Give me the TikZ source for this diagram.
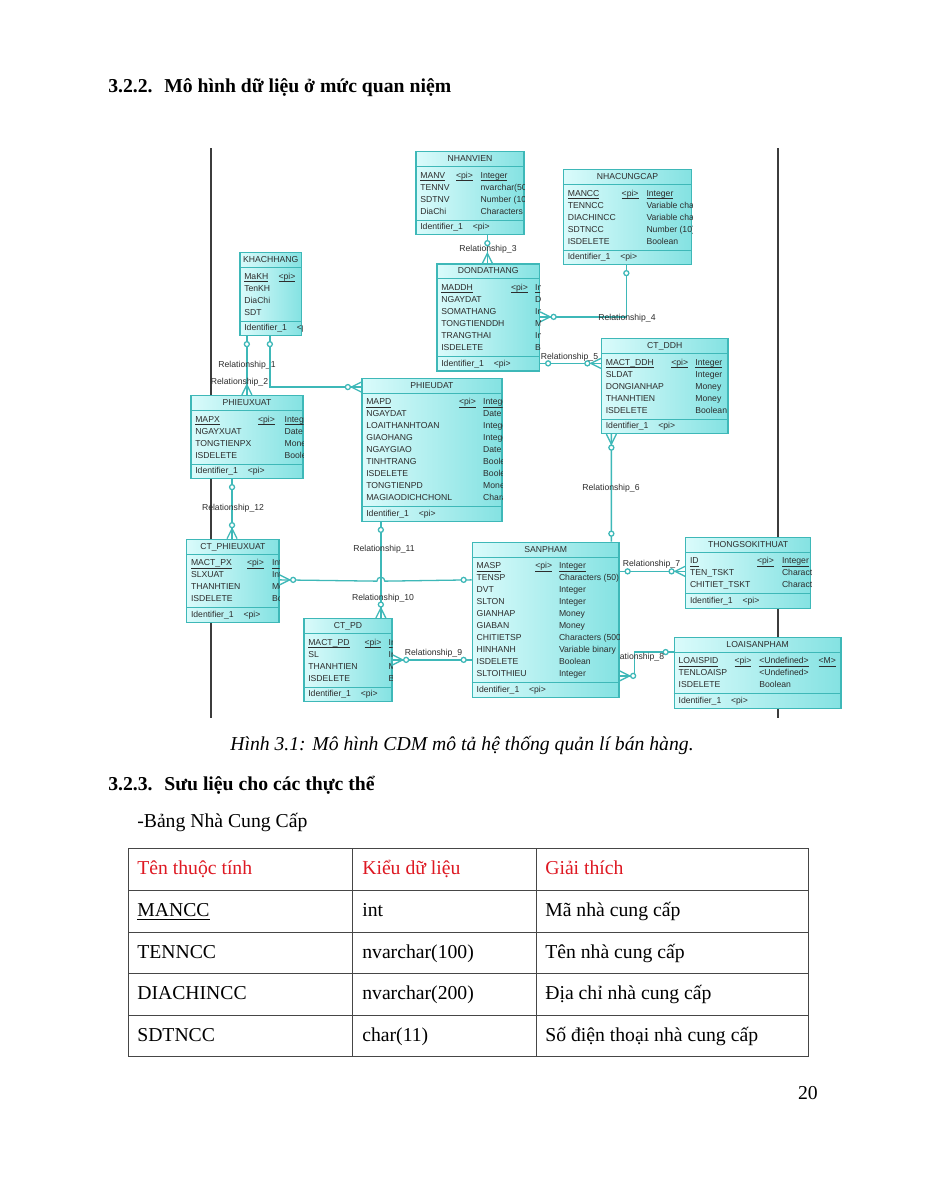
\documentclass[tikz,border=0pt]{standalone}
\usepackage{fontspec}
\setmainfont{Liberation Serif}
\newfontfamily\diagfont{Liberation Sans}
\usetikzlibrary{calc,fit}

\pgfdeclarelayer{paper}
\pgfdeclarelayer{back}
\pgfsetlayers{paper,back,main}

\definecolor{entborder}{RGB}{62,184,184}
\definecolor{entlight}{RGB}{218,251,251}
\definecolor{entdark}{RGB}{132,226,226}
\definecolor{inkgray}{RGB}{45,45,45}
\definecolor{framegray}{RGB}{60,60,60}
\definecolor{headred}{RGB}{222,24,34}
\definecolor{rulegray}{RGB}{70,70,70}

\newcommand{\entfont}{\diagfont\fontsize{5.7}{7}\selectfont}
\newcommand{\erul}[1]{\underline{\smash{#1}}}

\tikzset{
  entbox/.style={draw=entborder, line width=0.85pt, inner sep=0pt, left color=entlight, right color=entdark},
  entline/.style={draw=entborder, line width=0.7pt},
  enttitle/.style={font=\entfont, text=inkgray, anchor=base, inner sep=0pt},
  enttext/.style={font=\entfont, text=inkgray, anchor=base west, inner sep=0pt},
  relline/.style={draw=entborder, line width=0.85pt},
  rellabel/.style={font=\entfont, text=inkgray, inner sep=0pt},
  bodytext/.style={font=\fontsize{13}{15}\selectfont, anchor=base west, inner sep=0pt},
  sectext/.style={font=\bfseries\fontsize{13}{15}\selectfont, anchor=base west, inner sep=0pt},
  captext/.style={font=\itshape\fontsize{13}{15}\selectfont, anchor=base west, inner sep=0pt},
  tablerule/.style={draw=rulegray, line width=0.5pt},
  onemark/.pic={\draw[relline, fill=white] (8,0) circle[radius=2.5];},
  manymark/.pic={\draw[relline] (0,-5) -- (10,0) -- (0,5);
    \draw[relline, fill=white] (13.5,0) circle[radius=2.5];},
  crowmark/.pic={\draw[relline] (0,-5) -- (10,0) -- (0,5);},
}

% entity: id, x1, y1, x2, rows, title, <pi> column, type column, rows
\newcommand{\erentity}[9]{%
  \def\erid{#1}\def\erx{#2}\def\ery{#3}\def\erpix{#7}\def\ertypex{#8}%
  \pgfmathsetmacro{\erbot}{#3+35+12*#5}%
  \node[entbox, fit={(#2,#3) (#4,\erbot)}] (#1) {};
  \draw[entline] ($(#1.north west)+(0,15.5)$) -- ($(#1.north east)+(0,15.5)$);
  \draw[entline] ($(#1.south west)+(0,-15)$) -- ($(#1.south east)+(0,-15)$);
  \node[enttitle] (#1-title) at ($(#1.north)+(0,10.5)$) {#6};
  \begin{scope}
    \clip (#1.north west) rectangle (#1.south east);
    #9
    \node[enttext] (#1-ident) at (#2+4,\erbot-5) {Identifier\_1};
    \node[enttext] (#1-identpi) at (#2+56.5,\erbot-5) {<pi>};
  \end{scope}
}
\newcommand{\erkey}[2]{%
  \node[enttext] (\erid-key) at (\erx+4,\ery+26.5) {\erul{#1}};
  \node[enttext] (\erid-keypi) at (\erx+\erpix,\ery+26.5) {\erul{<pi>}};
  \node[enttext] (\erid-keytype) at (\erx+\ertypex,\ery+26.5) {\erul{#2}};
}
\newcommand{\erattr}[3]{%
  \node[enttext] (\erid-a#1) at (\erx+4,\ery+14.5+12*#1) {#2};
  \node[enttext] (\erid-t#1) at (\erx+\ertypex,\ery+14.5+12*#1) {#3};
}

\begin{document}
\begin{tikzpicture}[x=0.66pt, y=-0.66pt]
\begin{pgfonlayer}{paper}
\fill[white] (0,0) rectangle (927,1200);
\end{pgfonlayer}
\useasboundingbox (0,0) rectangle (927,1200);

\node[sectext] (sec322) at (108,92.5) {\makebox[37pt][l]{3.2.2.}Mô hình dữ liệu ở mức quan niệm};

% entities
\erentity{nhanvien}{416}{151.5}{524}{4}{NHANVIEN}{39.8}{64.3}{%
  \erkey{MANV}{Integer}
  \erattr{2}{TENNV}{nvarchar(50)}
  \erattr{3}{SDTNV}{Number (10)}
  \erattr{4}{DiaChi}{Characters (50)}
}
\erentity{nhacungcap}{563.5}{169.5}{691.5}{5}{NHACUNGCAP}{57.9}{82.7}{%
  \erkey{MANCC}{Integer}
  \erattr{2}{TENNCC}{Variable characters (100)}
  \erattr{3}{DIACHINCC}{Variable characters (200)}
  \erattr{4}{SDTNCC}{Number (10)}
  \erattr{5}{ISDELETE}{Boolean}
}
\erentity{khachhang}{240}{252.5}{301.5}{4}{KHACHHANG}{38.3}{70}{%
  \erkey{MaKH}{}
  \erattr{2}{TenKH}{}
  \erattr{3}{DiaChi}{}
  \erattr{4}{SDT}{}
}
\erentity{dondathang}{437}{264}{539.5}{6}{DONDATHANG}{73.8}{97.8}{%
  \erkey{MADDH}{Integer}
  \erattr{2}{NGAYDAT}{Date}
  \erattr{3}{SOMATHANG}{Integer}
  \erattr{4}{TONGTIENDDH}{Money}
  \erattr{5}{TRANGTHAI}{Integer}
  \erattr{6}{ISDELETE}{Boolean}
}
\erentity{ctddh}{601.5}{338.5}{728}{5}{CT\_DDH}{69.5}{93.6}{%
  \erkey{MACT\_DDH}{Integer}
  \erattr{2}{SLDAT}{Integer}
  \erattr{3}{DONGIANHAP}{Money}
  \erattr{4}{THANHTIEN}{Money}
  \erattr{5}{ISDELETE}{Boolean}
}
\erentity{phieudat}{362}{378.2}{502}{9}{PHIEUDAT}{96.8}{120.9}{%
  \erkey{MAPD}{Integer}
  \erattr{2}{NGAYDAT}{Date}
  \erattr{3}{LOAITHANHTOAN}{Integer}
  \erattr{4}{GIAOHANG}{Integer}
  \erattr{5}{NGAYGIAO}{Date}
  \erattr{6}{TINHTRANG}{Boolean}
  \erattr{7}{ISDELETE}{Boolean}
  \erattr{8}{TONGTIENPD}{Money}
  \erattr{9}{MAGIAODICHCHONL}{Characters (50)}
}
\erentity{phieuxuat}{191}{395.5}{303}{4}{PHIEUXUAT}{66.7}{93.3}{%
  \erkey{MAPX}{Integer}
  \erattr{2}{NGAYXUAT}{Date}
  \erattr{3}{TONGTIENPX}{Money}
  \erattr{4}{ISDELETE}{Boolean}
}
\erentity{ctphieuxuat}{186.7}{539.3}{279}{4}{CT\_PHIEUXUAT}{60}{85}{%
  \erkey{MACT\_PX}{Integer}
  \erattr{2}{SLXUAT}{Integer}
  \erattr{3}{THANHTIEN}{Money}
  \erattr{4}{ISDELETE}{Boolean}
}
\erentity{ctpd}{304}{618.7}{392}{4}{CT\_PD}{60.3}{84.3}{%
  \erkey{MACT\_PD}{Integer}
  \erattr{2}{SL}{Integer}
  \erattr{3}{THANHTIEN}{Money}
  \erattr{4}{ISDELETE}{Boolean}
}
\erentity{sanpham}{472.3}{542.3}{619}{10}{SANPHAM}{62.7}{86.4}{%
  \erkey{MASP}{Integer}
  \erattr{2}{TENSP}{Characters (50)}
  \erattr{3}{DVT}{Integer}
  \erattr{4}{SLTON}{Integer}
  \erattr{5}{GIANHAP}{Money}
  \erattr{6}{GIABAN}{Money}
  \erattr{7}{CHITIETSP}{Characters (500)}
  \erattr{8}{HINHANH}{Variable binary}
  \erattr{9}{ISDELETE}{Boolean}
  \erattr{10}{SLTOITHIEU}{Integer}
}
\erentity{thongsokithuat}{685.7}{537.3}{810.7}{3}{THONGSOKITHUAT}{71}{96}{%
  \erkey{ID}{Integer}
  \erattr{2}{TEN\_TSKT}{Characters (50)}
  \erattr{3}{CHITIET\_TSKT}{Characters (200)}
}
\erentity{loaisanpham}{674.3}{637.3}{841}{3}{LOAISANPHAM}{60}{84.7}{%
  \erkey{LOAISPID}{<Undefined>}
  \node[enttext] (loaisanpham-keym) at (\erx+144,\ery+26.5) {\erul{<M>}};
  \erattr{2}{TENLOAISP}{<Undefined>}
  \erattr{3}{ISDELETE}{Boolean}
}

% relationships, under the entities
\begin{pgfonlayer}{back}
\draw[framegray, line width=0.7pt] (211,148) -- (211,718);
\draw[framegray, line width=0.7pt] (778,148) -- (778,718);

\draw[relline] ($(khachhang.south west)+(7.5,0)$) coordinate (r1a) -- ($(phieuxuat.north west)+(56.5,0)$) coordinate (r1b);
\pic[rotate=-90] at (r1a) {onemark};
\pic[rotate=90] at (r1b) {crowmark};
\node[rellabel] (lab1) at (247,365) {Relationship\_1};

\draw[relline] ($(khachhang.south west)+(30.5,0)$) coordinate (r2a) |- ($(phieudat.north west)+(0,9.5)$) coordinate (r2b);
\pic[rotate=-90] at (r2a) {onemark};
\pic[rotate=180] at (r2b) {manymark};
\node[rellabel] (lab2) at (239.5,382.5) {Relationship\_2};

\draw[relline] ($(nhanvien.south west)+(72,0)$) coordinate (r3a) -- ($(dondathang.north west)+(51,0)$) coordinate (r3b);
\pic[rotate=-90] at (r3a) {onemark};
\pic[rotate=90] at (r3b) {crowmark};
\node[rellabel] (lab3) at (488,249) {Relationship\_3};

\draw[relline] ($(nhacungcap.south west)+(63.5,0)$) coordinate (r4a) |- ($(dondathang.north east)+(0,53.5)$) coordinate (r4b);
\pic[rotate=-90] at (r4a) {onemark};
\pic at (r4b) {manymark};
\node[rellabel] (lab4) at (627,318) {Relationship\_4};

\draw[relline] ($(dondathang.north east)+(0,100)$) coordinate (r5a) -- ($(ctddh.north west)+(0,25.5)$) coordinate (r5b);
\pic at (r5a) {onemark};
\pic[rotate=180] at (r5b) {manymark};
\node[rellabel] (lab5) at (569.5,357) {Relationship\_5};

\draw[relline] ($(ctddh.south west)+(10.5,0)$) coordinate (r6a) -- ($(sanpham.north west)+(139.7,0)$) coordinate (r6b);
\pic[rotate=-90] at (r6a) {manymark};
\pic[rotate=90] at (r6b) {onemark};
\node[rellabel] (lab6) at (611,488) {Relationship\_6};

\draw[relline] ($(sanpham.north east)+(0,29.7)$) coordinate (r7a) -- ($(thongsokithuat.north west)+(0,34.7)$) coordinate (r7b);
\pic at (r7a) {onemark};
\pic[rotate=180] at (r7b) {manymark};
\node[rellabel] (lab7) at (651.5,564.5) {Relationship\_7};

\draw[relline] ($(sanpham.north east)+(0,134.2)$) coordinate (r8a) -| ($(loaisanpham.north west)+(-39.3,15.4)$) -- ($(loaisanpham.north west)+(0,15.4)$) coordinate (r8b);
\pic at (r8a) {manymark};
\pic[rotate=180] at (r8b) {onemark};
\node[rellabel] (lab8) at (635.5,657.5) {Relationship\_8};

\draw[relline] ($(ctpd.north east)+(0,41.8)$) coordinate (r9a) -- ($(sanpham.north west)+(0,118.2)$) coordinate (r9b);
\pic at (r9a) {manymark};
\pic[rotate=180] at (r9b) {onemark};
\node[rellabel] (lab9) at (433.5,653) {Relationship\_9};

\draw[relline] ($(phieudat.south west)+(19.5,0)$) coordinate (r10a) -- ($(ctpd.north west)+(77.5,0)$) coordinate (r10b);
\pic[rotate=-90] at (r10a) {onemark};
\pic[rotate=90] at (r10b) {manymark};
\node[rellabel] (lab10) at (383,598) {Relationship\_10};

\draw[relline] ($(ctphieuxuat.north east)+(0,41.2)$) coordinate (r11a) -- ($(r10a)+(-4,59.3)$) arc[start angle=180, end angle=360, radius=4] -- ($(sanpham.north west)+(0,38.2)$) coordinate (r11b);
\pic at (r11a) {manymark};
\pic[rotate=180] at (r11b) {onemark};
\node[rellabel] (lab11) at (384,549) {Relationship\_11};

\draw[relline] ($(phieuxuat.south west)+(41.7,0)$) coordinate (r12a) -- ($(ctphieuxuat.north west)+(46,0)$) coordinate (r12b);
\pic[rotate=-90] at (r12a) {onemark};
\pic[rotate=90] at (r12b) {manymark};
\node[rellabel] (lab12) at (233,508) {Relationship\_12};
\end{pgfonlayer}

\node[captext] (caption) at (230,750.5) {Hình 3.1: Mô hình CDM mô tả hệ thống quản lí bán hàng.};
\node[sectext] (sec323) at (108,790.5) {\makebox[37pt][l]{3.2.3.}Sưu liệu cho các thực thể};
\node[bodytext] (tabletitle) at (137,827.5) {-Bảng Nhà Cung Cấp};

% table
\draw[tablerule] (128,848) rectangle (808,1056);
\foreach \y in {890,932,973,1015} \draw[tablerule] (128,\y) -- (808,\y);
\foreach \x in {352,536} \draw[tablerule] (\x,848) -- (\x,1056);

\node[bodytext, text=headred] (head1) at (137,874.5) {Tên thuộc tính};
\node[bodytext, text=headred] (head2) at (362,874.5) {Kiểu dữ liệu};
\node[bodytext, text=headred] (head3) at (545,874.5) {Giải thích};
\node[bodytext] (row1a) at (137,916.5) {\underline{MANCC}};
\node[bodytext] (row1b) at (362,916.5) {int};
\node[bodytext] (row1c) at (545,916.5) {Mã nhà cung cấp};
\node[bodytext] (row2a) at (137,958.5) {TENNCC};
\node[bodytext] (row2b) at (362,958.5) {nvarchar(100)};
\node[bodytext] (row2c) at (545,958.5) {Tên nhà cung cấp};
\node[bodytext] (row3a) at (137,999.5) {DIACHINCC};
\node[bodytext] (row3b) at (362,999.5) {nvarchar(200)};
\node[bodytext] (row3c) at (545,999.5) {Địa chỉ nhà cung cấp};
\node[bodytext] (row4a) at (137,1041.5) {SDTNCC};
\node[bodytext] (row4b) at (362,1041.5) {char(11)};
\node[bodytext] (row4c) at (545,1041.5) {Số điện thoại nhà cung cấp};

\node[bodytext, anchor=base east] (pageno) at (818,1099.5) {20};
\end{tikzpicture}
\end{document}
